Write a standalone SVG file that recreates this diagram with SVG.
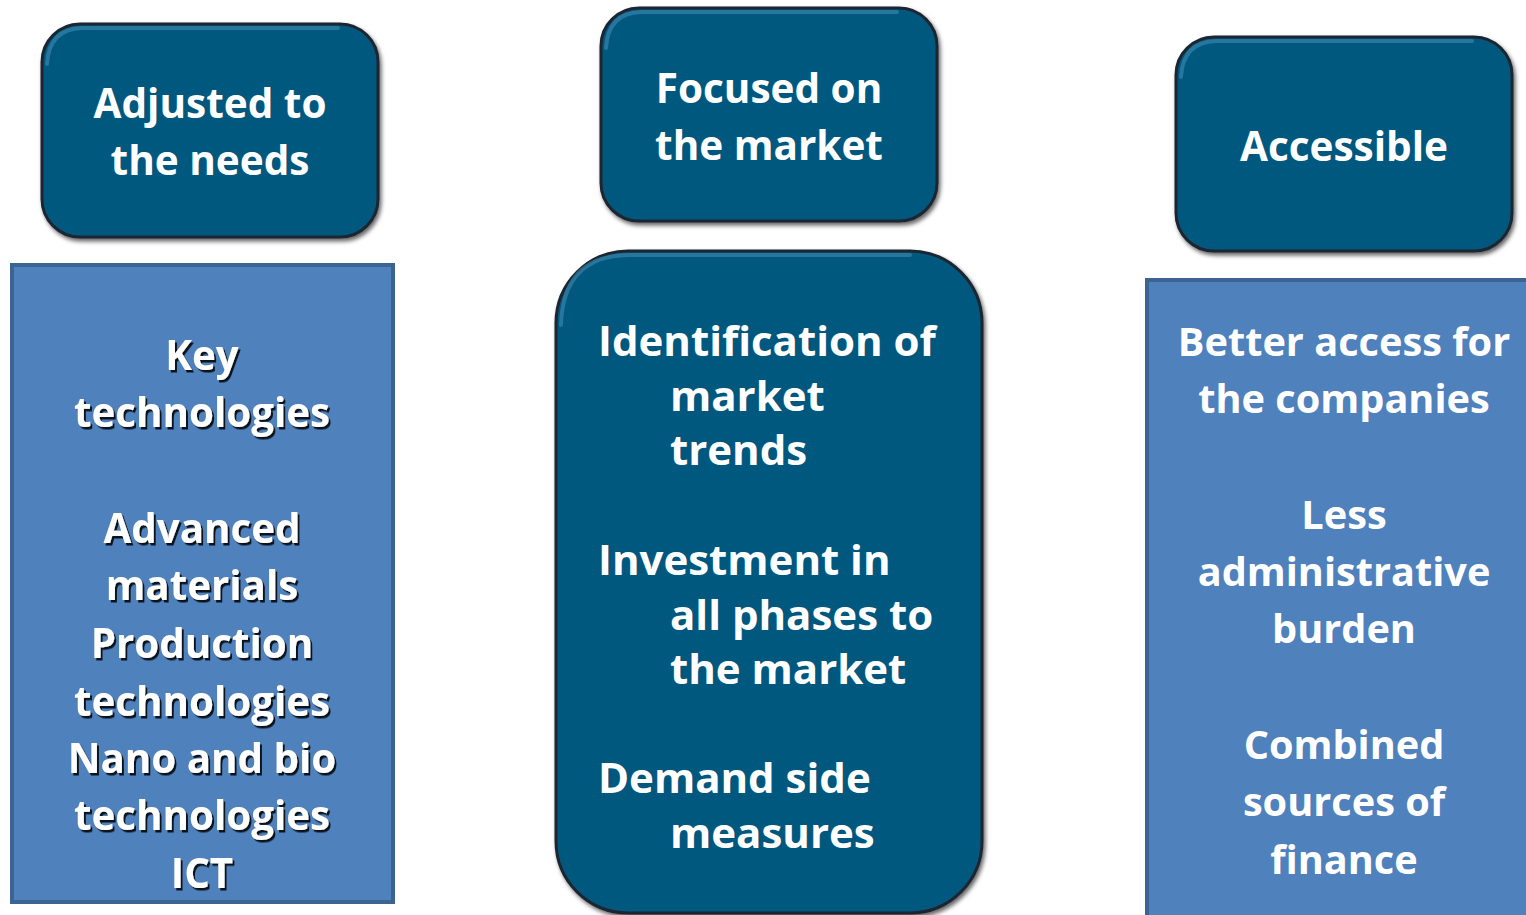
<svg xmlns="http://www.w3.org/2000/svg" width="1526" height="915" viewBox="0 0 1526 915">
<defs>
<style>
.dark{fill:#06587f;stroke:#1b2630;stroke-width:3}
.light{fill:#4f81bd;stroke:#3c6493;stroke-width:4}
.t{font-family:"Open Sans","Liberation Sans",sans-serif;font-weight:bold;fill:#ffffff}
.c{text-anchor:middle}
.sh{filter:url(#tsh)}
.hl{fill:none;stroke:#3f8ab3;stroke-width:4;stroke-opacity:0.6;stroke-linecap:round}
</style>
<filter id="tsh" x="-10%" y="-10%" width="120%" height="130%">
<feDropShadow dx="2" dy="2.5" stdDeviation="0.6" flood-color="#000" flood-opacity="0.85"/>
</filter>
<filter id="bsh" x="-5%" y="-5%" width="112%" height="112%">
<feDropShadow dx="2" dy="3" stdDeviation="2" flood-color="#000" flood-opacity="0.6"/>
</filter>
</defs>
<rect width="1526" height="915" fill="#ffffff"/>

<g id="node-adjusted">
<rect class="dark" x="42" y="24" width="336" height="213" rx="38" filter="url(#bsh)"/>
<path class="hl" d="M47,64 Q49,29 82,28 L338,28"/>
<text class="t c" font-size="40.5" x="210" y="118">Adjusted to</text>
<text class="t c" font-size="40.5" x="210" y="175">the needs</text>
</g>

<g id="node-focused">
<rect class="dark" x="601" y="8" width="336" height="213" rx="38" filter="url(#bsh)"/>
<path class="hl" d="M606,48 Q608,13 641,12 L897,12"/>
<text class="t c" font-size="40.5" x="769" y="103">Focused on</text>
<text class="t c" font-size="40.5" x="769" y="160">the market</text>
</g>

<g id="node-accessible">
<rect class="dark" x="1176" y="37" width="336" height="214" rx="38" filter="url(#bsh)"/>
<path class="hl" d="M1181,77 Q1183,42 1216,41 L1472,41"/>
<text class="t c" font-size="40.5" x="1344" y="161">Accessible</text>
</g>

<g id="node-key">
<rect class="light" x="12" y="265" width="381" height="637"/>
<g class="sh">
<text class="t c" font-size="40.3" x="202" y="370">Key</text>
<text class="t c" font-size="40.3" x="202" y="427">technologies</text>
<text class="t c" font-size="40.3" x="202" y="543">Advanced</text>
<text class="t c" font-size="40.3" x="202" y="600">materials</text>
<text class="t c" font-size="40.3" x="202" y="658">Production</text>
<text class="t c" font-size="40.3" x="202" y="716">technologies</text>
<text class="t c" font-size="40.3" x="202" y="773">Nano and bio</text>
<text class="t c" font-size="40.3" x="202" y="830">technologies</text>
<text class="t c" font-size="40.3" x="202" y="888">ICT</text>
</g>
</g>

<g id="node-market">
<rect class="dark" x="556" y="251" width="426" height="662" rx="72" filter="url(#bsh)"/>
<path class="hl" d="M561,325 Q563,256 628,255 L910,255"/>
<text class="t" font-size="42" x="598" y="356">Identification of</text>
<text class="t" font-size="42" x="670" y="411">market</text>
<text class="t" font-size="42" x="670" y="465">trends</text>
<text class="t" font-size="42" x="598" y="575">Investment in</text>
<text class="t" font-size="42" x="670" y="630">all phases to</text>
<text class="t" font-size="42" x="670" y="684">the market</text>
<text class="t" font-size="42" x="598" y="793">Demand side</text>
<text class="t" font-size="42" x="670" y="848">measures</text>
</g>

<g id="node-access">
<rect class="light" x="1147" y="280" width="390" height="640"/>
<text class="t c" font-size="39.7" x="1344" y="356">Better access for</text>
<text class="t c" font-size="39.7" x="1344" y="413">the companies</text>
<text class="t c" font-size="39.7" x="1344" y="529">Less</text>
<text class="t c" font-size="39.7" x="1344" y="586">administrative</text>
<text class="t c" font-size="39.7" x="1344" y="643">burden</text>
<text class="t c" font-size="39.7" x="1344" y="759">Combined</text>
<text class="t c" font-size="39.7" x="1344" y="816">sources of</text>
<text class="t c" font-size="39.7" x="1344" y="874">finance</text>
</g>

<g id="connectors"></g>
</svg>
